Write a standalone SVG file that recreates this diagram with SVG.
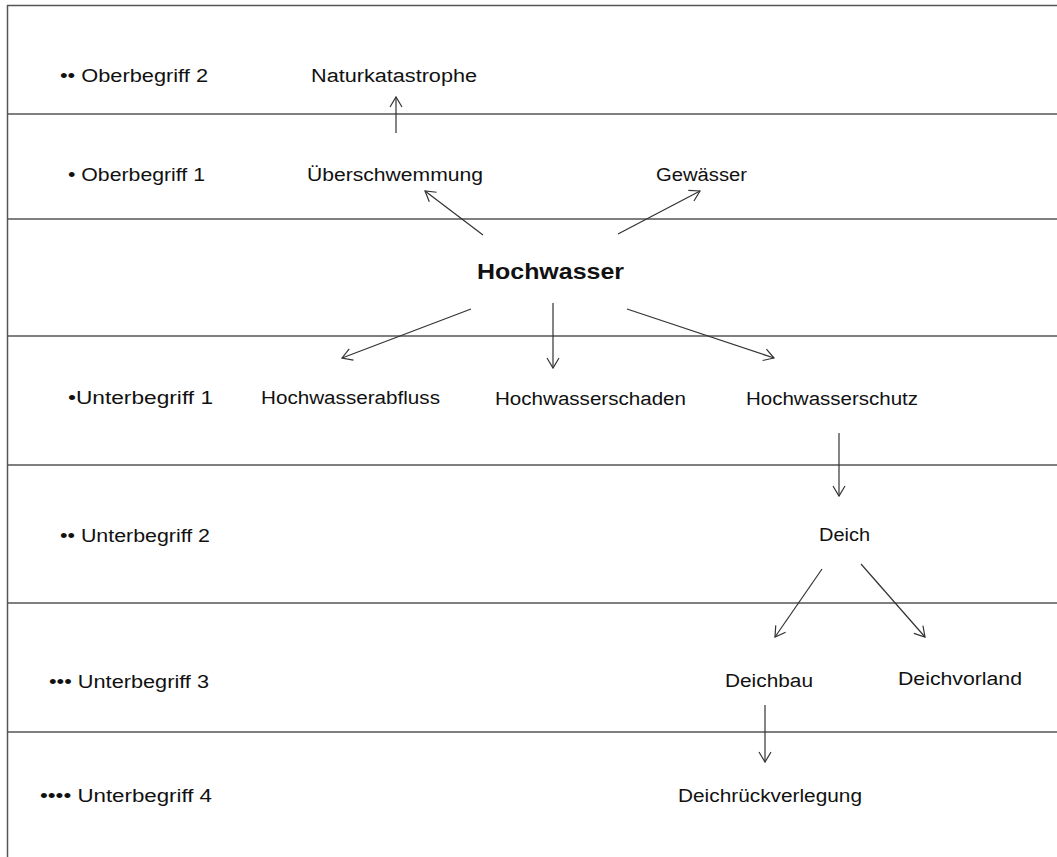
<svg xmlns="http://www.w3.org/2000/svg" width="1057" height="857" viewBox="0 0 1057 857">
<defs>
<style>
.t{font-family:"Liberation Sans","DejaVu Sans",sans-serif;font-size:18px;fill:#111}
.b{font-weight:bold;font-size:22px}
.band{stroke:#555;stroke-width:1.5;fill:none}
.c{stroke:#333;stroke-width:1.2;fill:none;marker-end:url(#ah)}
</style>
<marker id="ah" markerUnits="userSpaceOnUse" markerWidth="16" markerHeight="16" refX="11" refY="7" orient="auto">
<path d="M1,1 L11,7 L1,13" fill="none" stroke="#333" stroke-width="1.2"/>
</marker>
</defs>
<rect width="1057" height="857" fill="#fff"/>
<g id="frame">
<line class="band" x1="7" y1="5.5" x2="1057" y2="5.5" stroke="#222"/>
<line class="band" x1="7.5" y1="5" x2="7.5" y2="857" stroke="#222"/>
<line class="band" x1="7" y1="114" x2="1057" y2="114"/>
<line class="band" x1="7" y1="219" x2="1057" y2="219"/>
<line class="band" x1="7" y1="336" x2="1057" y2="336"/>
<line class="band" x1="7" y1="465" x2="1057" y2="465"/>
<line class="band" x1="7" y1="603" x2="1057" y2="603"/>
<line class="band" x1="7" y1="732" x2="1057" y2="732"/>
</g>
<g id="levels">
<text class="t" x="60" y="82" textLength="148" lengthAdjust="spacingAndGlyphs">•• Oberbegriff 2</text>
<text class="t" x="68" y="181" textLength="137" lengthAdjust="spacingAndGlyphs">• Oberbegriff 1</text>
<text class="t" x="68" y="404" textLength="145" lengthAdjust="spacingAndGlyphs">•Unterbegriff  1</text>
<text class="t" x="60" y="542" textLength="150" lengthAdjust="spacingAndGlyphs">•• Unterbegriff 2</text>
<text class="t" x="49" y="688" textLength="160" lengthAdjust="spacingAndGlyphs">••• Unterbegriff 3</text>
<text class="t" x="40" y="802" textLength="172" lengthAdjust="spacingAndGlyphs">•••• Unterbegriff 4</text>
</g>
<g id="n-naturkatastrophe"><text class="t" x="311" y="82" textLength="166" lengthAdjust="spacingAndGlyphs">Naturkatastrophe</text></g>
<g id="n-ueberschwemmung"><text class="t" x="307" y="181" textLength="176" lengthAdjust="spacingAndGlyphs">Überschwemmung</text></g>
<g id="n-gewaesser"><text class="t" x="656" y="181" textLength="91" lengthAdjust="spacingAndGlyphs">Gewässer</text></g>
<g id="n-hochwasser"><text class="t b" x="477" y="279" textLength="147" lengthAdjust="spacingAndGlyphs">Hochwasser</text></g>
<g id="n-hochwasserabfluss"><text class="t" x="261" y="404" textLength="179" lengthAdjust="spacingAndGlyphs">Hochwasserabfluss</text></g>
<g id="n-hochwasserschaden"><text class="t" x="495" y="405" textLength="191" lengthAdjust="spacingAndGlyphs">Hochwasserschaden</text></g>
<g id="n-hochwasserschutz"><text class="t" x="746" y="405" textLength="172" lengthAdjust="spacingAndGlyphs">Hochwasserschutz</text></g>
<g id="n-deich"><text class="t" x="819" y="541" textLength="51" lengthAdjust="spacingAndGlyphs">Deich</text></g>
<g id="n-deichbau"><text class="t" x="725" y="687" textLength="88" lengthAdjust="spacingAndGlyphs">Deichbau</text></g>
<g id="n-deichvorland"><text class="t" x="898" y="685" textLength="124" lengthAdjust="spacingAndGlyphs">Deichvorland</text></g>
<g id="n-deichrueckverlegung"><text class="t" x="678" y="802" textLength="184" lengthAdjust="spacingAndGlyphs">Deichrückverlegung</text></g>
<g id="connectors">
<line class="c" x1="396" y1="133" x2="396" y2="97"/>
<line class="c" x1="483" y1="235" x2="425" y2="191"/>
<line class="c" x1="618" y1="234" x2="700" y2="191"/>
<line class="c" x1="471" y1="309" x2="342" y2="358"/>
<line class="c" x1="553" y1="303" x2="553" y2="368"/>
<line class="c" x1="627" y1="309" x2="774" y2="358"/>
<line class="c" x1="839" y1="433" x2="839" y2="496"/>
<line class="c" x1="822" y1="569" x2="775" y2="637"/>
<line class="c" x1="861" y1="564" x2="925" y2="637"/>
<line class="c" x1="765" y1="705" x2="765" y2="762"/>
</g>
</svg>
